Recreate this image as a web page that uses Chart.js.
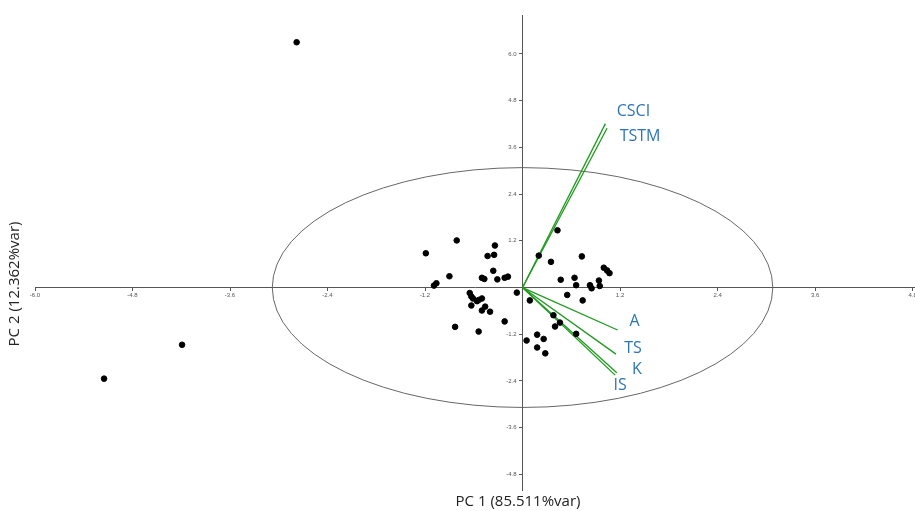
<!DOCTYPE html>
<html>
<head>
<meta charset="utf-8">
<script src="https://cdn.jsdelivr.net/npm/chart.js@4"></script>
<style>
    html, body { margin: 0; padding: 0; background: #fff; }
    #wrap { width: 915px; height: 511px; position: relative; }
</style>
</head>
<body>
<div id="wrap"><canvas id="pcaChart"></canvas></div>
<script>
// Sample scores (PC1, PC2)
const sampleX = [-2.78, -4.19, -5.15,
    -1.19, -0.81, -0.34, -0.43, -0.35, -0.90, -1.09, -1.06, -0.50, -0.47, -0.36, -0.31, -0.22, -0.18,
    -0.07, -0.65, -0.63, -0.61, -0.56, -0.50, -0.63, -0.50, -0.46, -0.40, -0.54, -0.22, -0.83, -0.54,
    0.09, 0.20, 0.43, 0.35, 0.73, 0.47, 0.64, 0.66, 0.55, 0.74, 0.83, 0.85, 0.94, 0.95, 1.00, 1.04, 1.07,
    0.38, 0.40, 0.46, 0.66, 0.05, 0.18, 0.26, 0.18, 0.28];
const sampleY = [6.30, -1.47, -2.34,
    0.88, 1.21, 1.08, 0.81, 0.84, 0.29, 0.05, 0.11, 0.25, 0.22, 0.43, 0.21, 0.25, 0.28,
    -0.13, -0.14, -0.23, -0.28, -0.35, -0.28, -0.46, -0.59, -0.49, -0.62, -0.32, -0.87, -1.01, -1.13,
    -0.33, 0.82, 1.47, 0.66, 0.80, 0.20, 0.25, 0.06, -0.19, -0.33, 0.06, -0.02, 0.18, 0.04, 0.51, 0.44, 0.37,
    -0.71, -1.00, -0.90, -1.19, -1.36, -1.21, -1.32, -1.54, -1.69];

// Variable loadings (biplot vectors)
const loadingNames = ['CSCI', 'TSTM', 'A', 'TS', 'K', 'IS'];
const loadingX = [1.02, 1.04, 1.17, 1.15, 1.16, 1.14];
const loadingY = [4.21, 4.09, -1.09, -1.71, -2.19, -2.25];

// Axis ticks
const xTickValues = [-6.0, -4.8, -3.6, -2.4, -1.2, 1.2, 2.4, 3.6, 4.8];
const yTickValues = [-4.8, -3.6, -2.4, -1.2, 1.2, 2.4, 3.6, 4.8, 6.0];

const xTitle = 'PC 1 (85.511%var)';
const yTitle = 'PC 2 (12.362%var)';
const circleRadius = 3.08;

// Label offsets from vector tips (px)
const labelOffsets = [[28, -12], [33, 8], [17, -9], [17, -6], [20, -3], [5, 10]];

const colors = {
    point: '#000000',
    vector: '#1f9a1f',
    label: '#2e75b6',
    axis: '#555555',
    circle: '#666666',
    title: '#222222'
};

// Datasets
const sampleData = sampleX.map((x, i) => ({ x: x, y: sampleY[i] }));
const vectorSets = loadingNames.map((name, i) => ({
    label: name,
    data: [{ x: 0, y: 0 }, { x: loadingX[i], y: loadingY[i] }],
    showLine: true,
    borderColor: colors.vector,
    borderWidth: 1.3,
    pointRadius: 0,
    order: 2
}));

// Draws the circle, vector labels and axis titles
const biplotExtras = {
    id: 'biplotExtras',
    beforeDatasetsDraw(chart) {
        const { ctx, scales: { x, y } } = chart;
        const cx = x.getPixelForValue(0);
        const cy = y.getPixelForValue(0);
        const rx = x.getPixelForValue(circleRadius) - cx;
        const ry = cy - y.getPixelForValue(circleRadius);
        ctx.save();
        ctx.strokeStyle = colors.circle;
        ctx.lineWidth = 1;
        ctx.beginPath();
        ctx.ellipse(cx, cy, rx, ry, 0, 0, Math.PI * 2);
        ctx.stroke();
        ctx.restore();
    },
    afterDraw(chart) {
        const { ctx, scales: { x, y } } = chart;
        ctx.save();
        ctx.fillStyle = colors.label;
        ctx.font = '16px "Open Sans"';
        ctx.textAlign = 'center';
        ctx.textBaseline = 'middle';
        loadingNames.forEach((name, i) => {
            const px = x.getPixelForValue(loadingX[i]) + labelOffsets[i][0];
            const py = y.getPixelForValue(loadingY[i]) + labelOffsets[i][1];
            ctx.fillText(name, px, py);
        });

        ctx.fillStyle = colors.title;
        ctx.font = '15px "Open Sans"';
        ctx.fillText(xTitle, 518, 502);
        ctx.translate(15, 284);
        ctx.rotate(-Math.PI / 2);
        ctx.fillText(yTitle, 0, 0);
        ctx.restore();
    }
};

const axisCommon = {
    type: 'linear',
    grid: {
        display: true,
        drawOnChartArea: false,
        drawTicks: true,
        tickLength: 3,
        color: colors.axis
    },
    border: {
        display: true,
        color: colors.axis,
        width: 1
    },
    ticks: {
        color: colors.axis,
        padding: 1,
        font: { size: 6 },
        callback: v => Number(v).toFixed(1)
    }
};

const ctx = document.getElementById('pcaChart').getContext('2d');
const pcaChart = new Chart(ctx, {
    type: 'scatter',
    data: {
        datasets: [
            {
                label: 'Samples',
                data: sampleData,
                backgroundColor: colors.point,
                borderColor: colors.point,
                pointRadius: 2.8,
                order: 1
            },
            ...vectorSets
        ]
    },
    options: {
        responsive: true,
        maintainAspectRatio: false,
        animation: false,
        layout: {
            autoPadding: false,
            padding: { top: 15, bottom: 21, left: 35, right: 0 }
        },
        plugins: {
            legend: { display: false },
            tooltip: { enabled: false }
        },
        scales: {
            x: {
                ...axisCommon,
                position: { y: 0 },
                min: -6.0,
                max: 4.83,
                afterBuildTicks: scale => {
                    scale.ticks = xTickValues.map(v => ({ value: v }));
                },
                afterFit: scale => {
                    scale.paddingLeft = 0;
                    scale.paddingRight = 0;
                }
            },
            y: {
                ...axisCommon,
                // centred y labels are right-aligned on the axis line, so pad them with spaces
                ticks: { ...axisCommon.ticks, callback: v => Number(v).toFixed(1) + '\u2002\u2002' },
                position: { x: 0 },
                min: -5.2,
                max: 7.0,
                afterBuildTicks: scale => {
                    scale.ticks = yTickValues.map(v => ({ value: v }));
                },
                afterFit: scale => {
                    scale.paddingTop = 0;
                    scale.paddingBottom = 0;
                }
            }
        }
    },
    plugins: [biplotExtras]
});
</script>
</body>
</html>
